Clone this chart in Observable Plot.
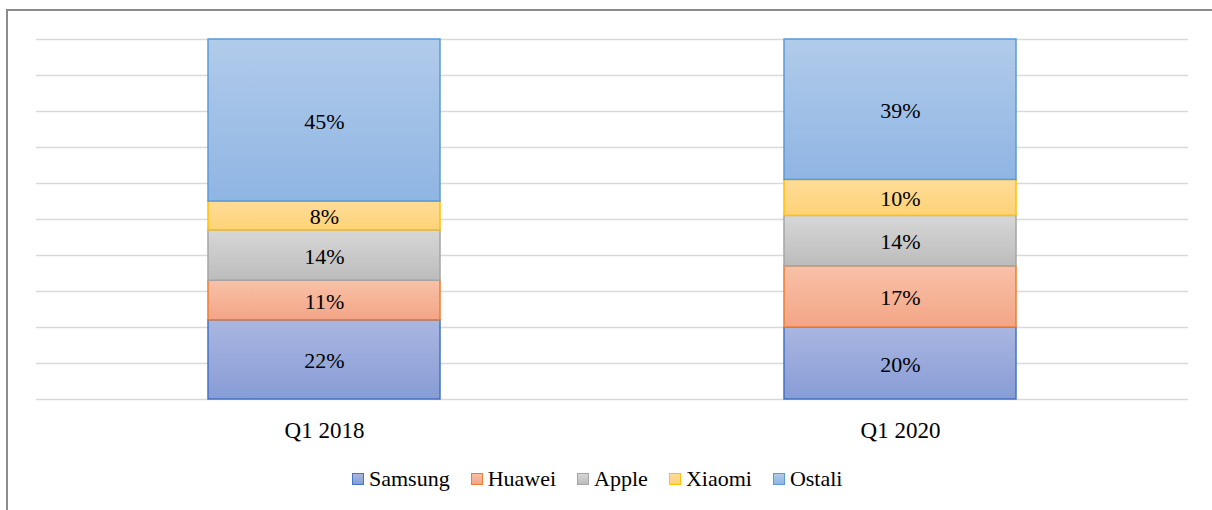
<!DOCTYPE html>
<html>
<head>
<meta charset="utf-8">
<script src="https://cdn.jsdelivr.net/npm/d3@7"></script>
<script src="https://cdn.jsdelivr.net/npm/@observablehq/plot@0.6"></script>
<style>
  html, body { margin: 0; padding: 0; background: #fff; }
  #wrap { position: relative; width: 1212px; height: 510px; overflow: hidden; background: #fff; font-family: "Liberation Serif", "Times New Roman", serif; }
  #frame { position: absolute; left: 6px; top: 9px; width: 1300px; height: 600px; border: 2px solid #8c8c8c; box-sizing: border-box; }
  #chart { position: absolute; left: 0; top: 0; }
  #legend { position: absolute; left: 352px; top: 466px; display: flex; align-items: center; font-size: 22px; color: #000; white-space: nowrap; }
  .item { display: flex; align-items: center; margin-right: 21px; }
  .sw { width: 10px; height: 10px; border: 1.5px solid; margin-right: 5px; }
</style>
</head>
<body>
<div id="wrap">
  <div id="frame"></div>
  <div id="chart"></div>
  <div id="legend"></div>
</div>
<script>
const categories = ["Q1 2018", "Q1 2020"];
const brands = ["Samsung", "Huawei", "Apple", "Xiaomi", "Ostali"];
const samsung = [22, 20];
const huawei = [11, 17];
const apple = [14, 14];
const xiaomi = [8, 10];
const ostali = [45, 39];
const yTicks = [0, 10, 20, 30, 40, 50, 60, 70, 80, 90, 100];

const series = { Samsung: samsung, Huawei: huawei, Apple: apple, Xiaomi: xiaomi, Ostali: ostali };
const strokes = { Samsung: "#4472c4", Huawei: "#ed7d31", Apple: "#a5a5a5", Xiaomi: "#ffc000", Ostali: "#5b9bd5" };
const grads = {
  Samsung: ["#aab6e1", "#879cd6"],
  Huawei: ["#f8c1a8", "#f4a586"],
  Apple: ["#d7d7d7", "#bcbcbc"],
  Xiaomi: ["#ffdc98", "#fed276"],
  Ostali: ["#b1cbea", "#8fb5e3"]
};

const data = [];
categories.forEach((c, i) => {
  brands.forEach(b => data.push({ cat: c, brand: b, value: series[b][i] }));
});

const chart = Plot.plot({
  width: 1212,
  height: 445,
  marginLeft: 36,
  marginRight: 24,
  marginTop: 39,
  marginBottom: 46,
  style: { fontFamily: "'Liberation Serif', 'Times New Roman', serif", fontSize: "23px", background: "transparent", color: "#000" },
  x: { domain: categories, paddingInner: 0.597, paddingOuter: 0.2985, label: null, tickSize: 0, tickPadding: 22 },
  y: { domain: [0, 100], axis: null },
  marks: [
    Plot.ruleY(yTicks, { stroke: "#d9d9d9", strokeWidth: 1.5 }),
    Plot.barY(data, Plot.stackY({
      x: "cat", y: "value",
      fill: d => `url(#grad-${d.brand})`,
      stroke: d => strokes[d.brand],
      strokeWidth: 1.5
    })),
    Plot.text(data, Plot.stackY({
      x: "cat", y: "value",
      text: d => d.value + "%",
      fill: "#000",
      fontSize: 22,
      dy: 1
    }))
  ]
});

// gradient defs
const ns = "http://www.w3.org/2000/svg";
const defs = document.createElementNS(ns, "defs");
brands.forEach(b => {
  const lg = document.createElementNS(ns, "linearGradient");
  lg.setAttribute("id", "grad-" + b);
  lg.setAttribute("x1", "0"); lg.setAttribute("y1", "0");
  lg.setAttribute("x2", "0"); lg.setAttribute("y2", "1");
  [[0, grads[b][0]], [1, grads[b][1]]].forEach(([o, c]) => {
    const s = document.createElementNS(ns, "stop");
    s.setAttribute("offset", o);
    s.setAttribute("stop-color", c);
    lg.appendChild(s);
  });
  defs.appendChild(lg);
});
chart.insertBefore(defs, chart.firstChild);
document.getElementById("chart").appendChild(chart);

// legend
const legend = document.getElementById("legend");
brands.forEach(b => {
  const item = document.createElement("div");
  item.className = "item";
  const sw = document.createElement("span");
  sw.className = "sw";
  sw.style.borderColor = strokes[b];
  sw.style.background = `linear-gradient(${grads[b][0]}, ${grads[b][1]})`;
  const t = document.createElement("span");
  t.textContent = b;
  item.appendChild(sw);
  item.appendChild(t);
  legend.appendChild(item);
});
</script>
</body>
</html>
